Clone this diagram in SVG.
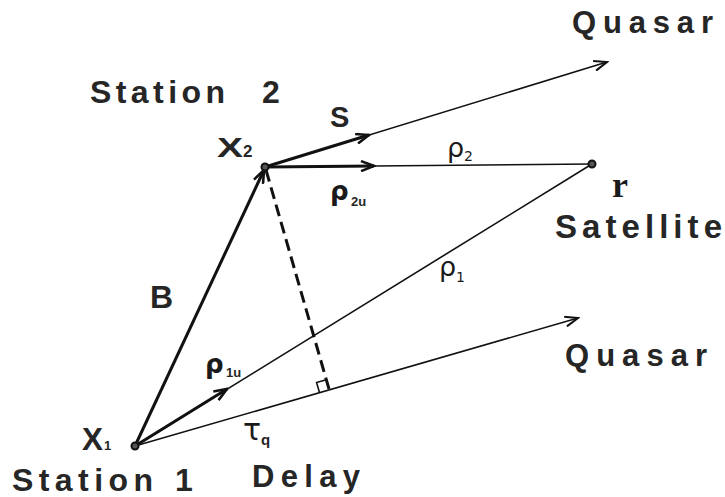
<svg xmlns="http://www.w3.org/2000/svg" width="725" height="497" viewBox="0 0 725 497">
<style>
.lbl{font-family:"Liberation Sans",Arial,sans-serif;font-weight:bold;fill:#262626;}
.sym{font-family:"DejaVu Sans","Liberation Sans",sans-serif;fill:#1a1a1a;}
.thin{stroke:#111;stroke-width:1.6;fill:none;}
.thick{stroke:#111;stroke-width:3;fill:none;}
.dot{fill:#555;stroke:#111;stroke-width:2;}
</style>
<defs>
<marker id="ah" markerUnits="userSpaceOnUse" viewBox="0 0 16 12" refX="14" refY="6" markerWidth="16" markerHeight="12" orient="auto">
<path d="M1,1 L14,6 L1,11" fill="none" stroke="#111" stroke-width="2"/>
</marker>
<marker id="ahb" markerUnits="userSpaceOnUse" viewBox="0 0 16 12" refX="14" refY="6" markerWidth="16" markerHeight="12" orient="auto">
<path d="M1,1 L14,6 L1,11" fill="none" stroke="#111" stroke-width="2.6"/>
</marker>
</defs>
<g id="connectors">
<line class="thin" x1="265" y1="167" x2="607" y2="62" marker-end="url(#ah)"/>
<line class="thick" x1="265" y1="167" x2="369" y2="135" marker-end="url(#ahb)"/>
<line class="thin" x1="265" y1="167" x2="592" y2="164"/>
<line class="thick" x1="265" y1="167" x2="374" y2="166" marker-end="url(#ahb)"/>
<line class="thin" x1="135" y1="446" x2="592" y2="164"/>
<line class="thick" x1="135" y1="446" x2="227" y2="389" marker-end="url(#ahb)"/>
<line class="thin" x1="135" y1="446" x2="578" y2="318" marker-end="url(#ah)"/>
<line class="thick" x1="135" y1="446" x2="264" y2="170" marker-end="url(#ahb)"/>
<line class="thick" x1="266" y1="170" x2="329" y2="389" stroke-dasharray="12,6"/>
<path class="thin" d="M319.4,392.2 L316.6,382.6 L326.2,379.8" />
</g>
<g id="node-x1">
<circle class="dot" cx="135" cy="446" r="3.5"/>
<text class="lbl" x="82" y="450" font-size="31" textLength="21" lengthAdjust="spacingAndGlyphs">X</text>
<text class="lbl" x="104" y="450" font-size="13">1</text>
<text class="lbl" x="12" y="491" font-size="32" textLength="141" lengthAdjust="spacing">Station</text>
<text class="lbl" x="175" y="491" font-size="32">1</text>
</g>
<g id="node-x2">
<circle class="dot" cx="265" cy="167" r="3.5"/>
<text class="lbl" x="217" y="157" font-size="28" textLength="26" lengthAdjust="spacingAndGlyphs">X</text>
<text class="lbl" x="243" y="157" font-size="17">2</text>
<text class="lbl" x="90" y="103" font-size="32" textLength="135" lengthAdjust="spacing">Station</text>
<text class="lbl" x="262" y="103" font-size="32">2</text>
</g>
<g id="node-satellite">
<circle class="dot" cx="592" cy="164" r="3.5"/>
<text x="612" y="197" font-family="'Liberation Serif','Times New Roman',serif" font-weight="bold" font-size="36" fill="#1a1a1a">r</text>
<text class="lbl" x="555" y="238" font-size="33" textLength="167" lengthAdjust="spacing">Satellite</text>
</g>
<g id="node-quasar-top">
<text class="lbl" x="572" y="33" font-size="31" textLength="141" lengthAdjust="spacing">Quasar</text>
</g>
<g id="node-quasar-bottom">
<text class="lbl" x="565" y="366" font-size="31" textLength="142" lengthAdjust="spacing">Quasar</text>
</g>
<g id="labels">
<text class="lbl" x="330" y="127" font-size="29">S</text>
<text class="lbl" x="150" y="308" font-size="32">B</text>
<text class="sym" x="330" y="200" font-size="26" font-weight="bold">ρ</text>
<text class="lbl" x="351" y="206" font-size="13">2u</text>
<text class="sym" x="447" y="157" font-size="27">ρ</text>
<text class="sym" x="464" y="161" font-size="14">2</text>
<text class="sym" x="439" y="276" font-size="27">ρ</text>
<text class="sym" x="456" y="282" font-size="14">1</text>
<text class="sym" x="205" y="373" font-size="26" font-weight="bold">ρ</text>
<text class="lbl" x="226" y="377" font-size="13">1u</text>
<text class="sym" x="243" y="440" font-size="30">τ</text>
<text class="lbl" x="261" y="445" font-size="15">q</text>
<text class="lbl" x="252" y="487" font-size="31" textLength="108" lengthAdjust="spacing">Delay</text>
</g>
</svg>
